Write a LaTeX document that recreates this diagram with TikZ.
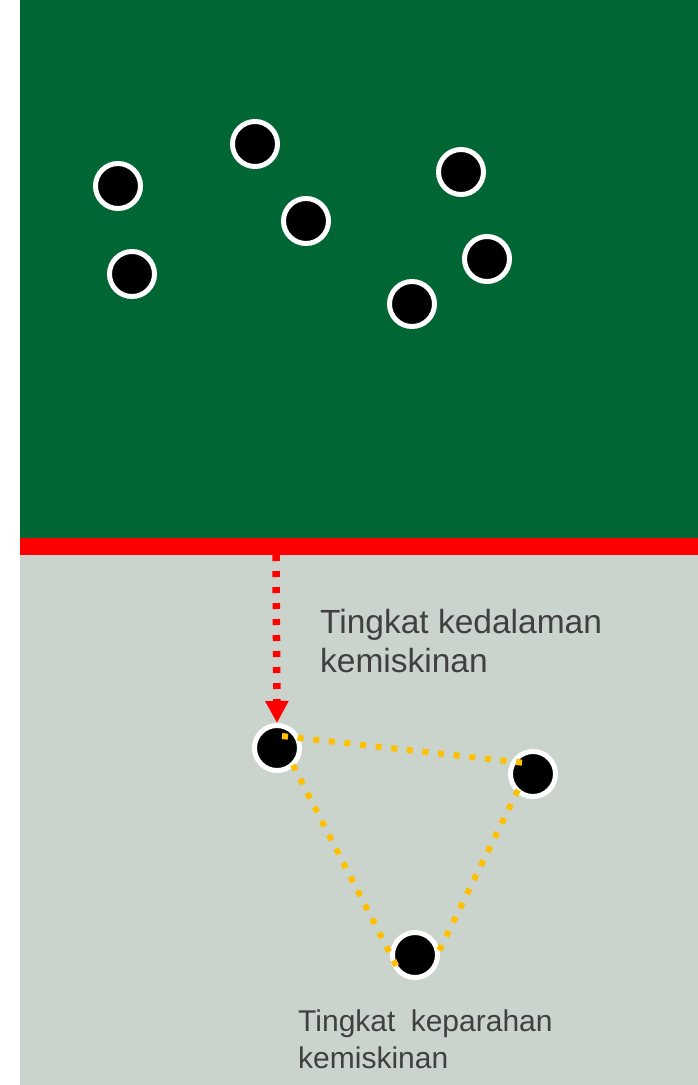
\documentclass[tikz,border=0pt]{standalone}
\usepackage{fontspec}
\setmainfont{Liberation Sans}
\usetikzlibrary{arrows.meta}
\definecolor{bggreen}{RGB}{0,102,51}
\definecolor{bggray}{RGB}{202,212,205}
\definecolor{dotorange}{RGB}{255,192,0}
\definecolor{txtgray}{RGB}{64,64,64}
\definecolor{bandred}{RGB}{255,0,0}
\begin{document}
\begin{tikzpicture}[x=1pt,y=-1pt,
  dot/.style={circle,fill=black,draw=white,line width=5pt,minimum size=45pt,inner sep=0pt},
  reddots/.style={draw=bandred,line width=7.5pt,dash pattern=on 6pt off 10pt,
    -{Triangle[width=22pt,length=22pt]}},
  orangedots/.style={draw=dotorange,line width=6pt,dash pattern=on 6pt off 9.7pt},
  label/.style={anchor=base west,align=left,inner sep=0pt,text=txtgray}]
\useasboundingbox (0,0) rectangle (698,1085);
\fill[white] (0,0) rectangle (698,1085);
\fill[bggreen] (20,0) rectangle (698,538);
\fill[bandred] (20,538) rectangle (698,555);
\fill[bggray] (20,555) rectangle (698,1085);
% dots in the green area
\node[dot] (g1) at (118,186) {};
\node[dot] (g2) at (255,144) {};
\node[dot] (g3) at (132,274) {};
\node[dot] (g4) at (306,221) {};
\node[dot] (g5) at (461,172) {};
\node[dot] (g6) at (487,259) {};
\node[dot] (g7) at (412,304) {};
% dots in the gray area
\node[dot] (p1) at (277,748) {};
\node[dot] (p2) at (533,774) {};
\node[dot] (p3) at (415,955) {};
% arrow from the line
\coordinate (a0) at (276,555);
\draw[reddots] (a0) -- (p1.north);
% triangle
\coordinate (t1a) at (282,736);
\coordinate (t1b) at (525,763);
\coordinate (t2a) at (293,765);
\coordinate (t2b) at (399,971);
\coordinate (t3a) at (518,790);
\coordinate (t3b) at (438,953);
\draw[orangedots] (t1a) -- (t1b);
\draw[orangedots] (t2a) -- (t2b);
\draw[orangedots] (t3a) -- (t3b);
% labels (base anchor = baseline of the last line)
\node[label,font=\fontsize{33.5}{38.4}\selectfont] (l1) at (320,672) {Tingkat kedalaman\\kemiskinan};
\node[label,font=\fontsize{30}{36.6}\selectfont] (l2) at (298,1068) {Tingkat\hspace*{7pt} keparahan\\kemiskinan};
\end{tikzpicture}
\end{document}
